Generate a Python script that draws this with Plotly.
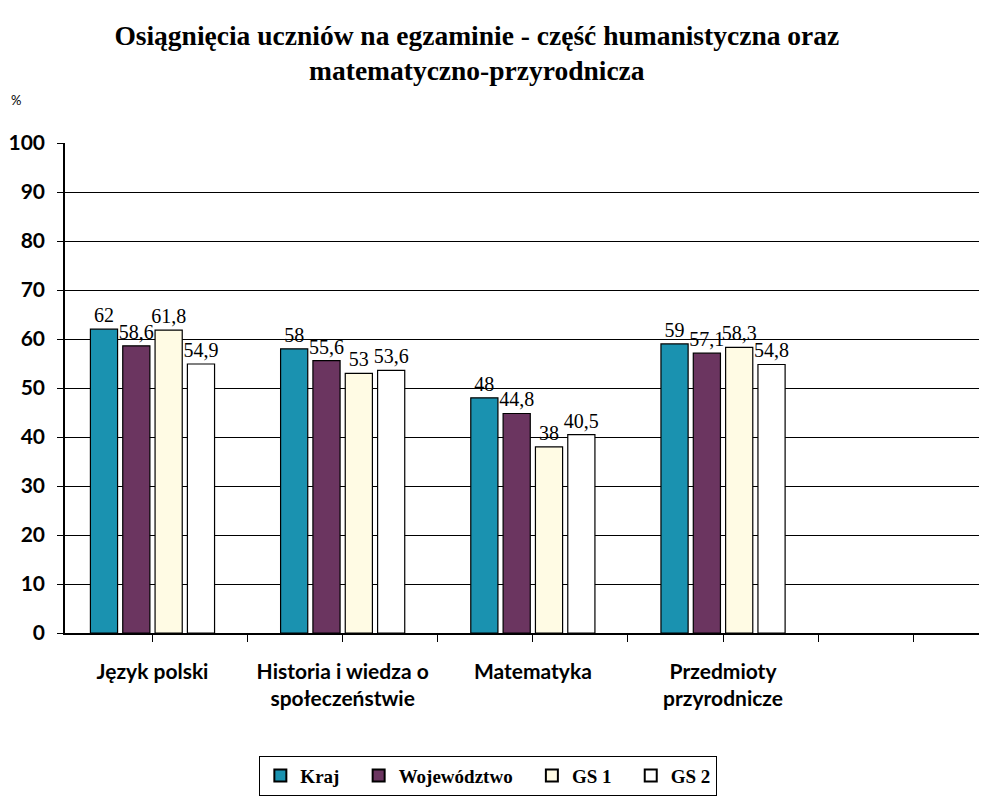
import numpy as np
import plotly.graph_objects as go

# subjects and results (%)
categories = ["Język polski", "Historia i wiedza o<br>społeczeństwie",
              "Matematyka", "Przedmioty<br>przyrodnicze"]
kraj = [62, 58, 48, 59]
wojewodztwo = [58.6, 55.6, 44.8, 57.1]
gs1 = [61.8, 53, 38, 58.3]
gs2 = [54.9, 53.6, 40.5, 54.8]
y_ticks = list(range(0, 101, 10))

series = [
    ("Kraj", kraj, "#1a92b0"),
    ("Województwo", wojewodztwo, "#6b3560"),
    ("GS 1", gs1, "#fffbe4"),
    ("GS 2", gs2, "#ffffff"),
]

serif = "Liberation Serif"
sans = "Lato"

xpos = np.arange(len(categories))
pad = "\u00a0\u00a0\u00a0"


def fmt(v):
    return f"{v:g}".replace(".", ",")


fig = go.Figure()
for i, (name, vals, col) in enumerate(series):
    fig.add_trace(go.Bar(
        x=xpos, y=vals,
        name="<b>" + name + "</b>" + (pad if i < len(series) - 1 else ""),
        marker=dict(color=col, line=dict(color="black", width=1.2)),
        text=[fmt(v) for v in vals], textposition="outside",
        textfont=dict(family=serif, size=20, color="black"),
        cliponaxis=False,
    ))

fig.update_layout(
    width=987, height=796,
    paper_bgcolor="white", plot_bgcolor="white",
    barmode="group", bargap=0.32, bargroupgap=0.16,
    uniformtext=dict(minsize=20, mode="show"),
    margin=dict(l=57, r=0, t=135, b=171, autoexpand=False),
    title=dict(
        text="<b>Osiągnięcia uczniów na egzaminie - część humanistyczna oraz<br>matematyczno-przyrodnicza</b>",
        x=0.475, xanchor="center", y=0.954, yanchor="top",
        font=dict(family=serif, size=27.5, color="black"),
    ),
    showlegend=True,
    legend=dict(
        orientation="h", x=0.455, xanchor="center", y=-0.25, yanchor="top",
        bordercolor="black", borderwidth=1.2, bgcolor="white",
        font=dict(family=serif, size=19, color="black"),
        itemsizing="constant", traceorder="normal",
    ),
    annotations=[dict(
        text="%", xref="paper", yref="paper", x=-0.053, y=1.088,
        xanchor="center", yanchor="middle", showarrow=False,
        font=dict(family=sans, size=13, color="black"),
    )],
)

fig.update_yaxes(
    range=[0, 100], tickvals=y_ticks,
    showgrid=True, gridcolor="black", gridwidth=1.2,
    showline=True, linecolor="black", linewidth=1.5,
    ticks="outside", ticklen=6, tickcolor="black",
    ticklabelstandoff=8,
    tickfont=dict(family=sans, size=21, color="black", weight="bold"),
    zeroline=False,
)
fig.update_xaxes(
    range=[-0.46, 4.43], tickvals=xpos, ticktext=categories,
    showgrid=False, showline=True, linecolor="black", linewidth=1.5,
    ticks="outside", ticklen=7, tickcolor="black",
    minor=dict(dtick=0.5, tick0=0, ticks="outside", ticklen=7, tickcolor="black"),
    ticklabelstandoff=12,
    tickfont=dict(family=sans, size=21, color="black", weight="bold"),
    zeroline=False,
)

fig.write_html("out.html")
